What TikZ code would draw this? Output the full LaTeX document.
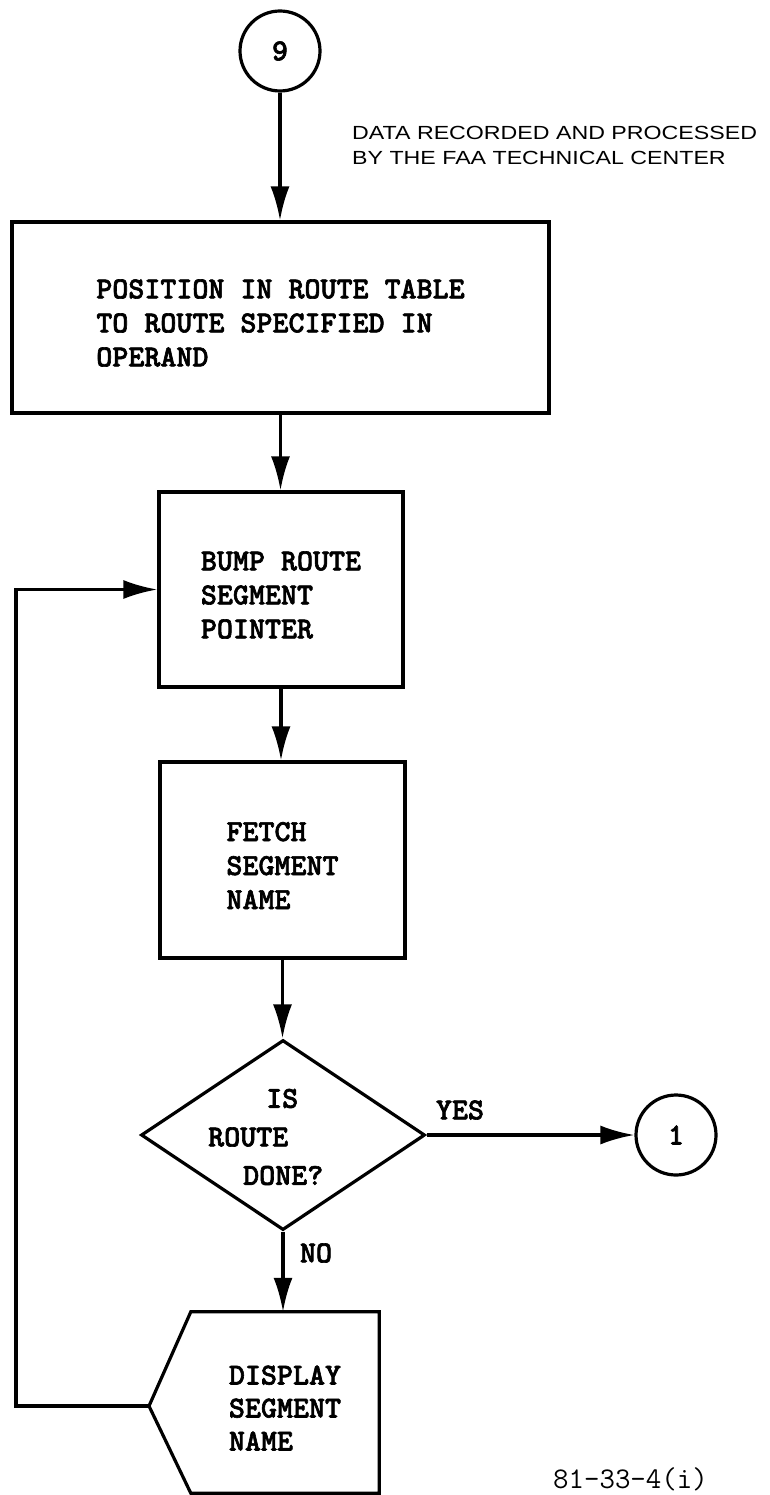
\documentclass[tikz,border=0pt]{standalone}
\usepackage{fontspec}
\setmainfont{Liberation Serif}
\newfontfamily\notefont{Liberation Sans}[FakeStretch=1.22]
\newfontfamily\boxtt{lmmonolt10-bold.otf}[FakeBold=2]
\usetikzlibrary{arrows.meta,shapes.geometric}
\newcommand\myhi{\rule{0pt}{30pt}}
\begin{document}
\begin{tikzpicture}[x=1pt,y=-1pt,
  ln/.style={line width=3.2pt, line join=miter},
  arr/.style={ln, -{Latex[length=34pt,width=19pt]}},
  proc/.style={draw, ln, rectangle, inner sep=0pt, align=left,
    font=\boxtt\fontsize{30.5}{34}\selectfont},
  plain/.style={rectangle, inner sep=0pt, align=left,
    font=\boxtt\fontsize{30.5}{33}\selectfont},
  dia/.style={draw, ln, diamond, inner sep=0pt},
  circ/.style={draw, ln, circle, inner sep=0pt, minimum size=80pt,
    font=\boxtt\fontsize{30.5}{32}\selectfont},
  lbl/.style={inner sep=0pt, font=\boxtt\fontsize{30.5}{32}\selectfont},
  note/.style={inner sep=0pt, align=left, font=\notefont\fontsize{19}{25}\selectfont},
  code/.style={inner sep=0pt, font=\ttfamily\fontsize{30}{32}\selectfont}
]
\useasboundingbox (0,0) rectangle (769,1495);

% nodes
\node[circ] (c9) at (280,51) {9};
\node[note, anchor=west] (note) at (352,145) {DATA RECORDED AND PROCESSED\\BY THE FAA TECHNICAL CENTER};
\node[proc, minimum width=537pt, minimum height=191pt] (b1) at (280.5,317.5)
  {\myhi POSITION IN ROUTE TABLE\\TO ROUTE SPECIFIED IN\\OPERAND};
\node[proc, minimum width=244pt, minimum height=195pt] (b2) at (281,589.5)
  {\myhi BUMP ROUTE\\SEGMENT\\POINTER};
\node[proc, minimum width=245pt, minimum height=196pt] (b3) at (282.5,860)
  {\myhi FETCH\\SEGMENT\\NAME};
\node[dia, minimum width=284pt, minimum height=190pt] (d) at (283,1135) {};
\node[plain, anchor=west, font=\boxtt\fontsize{30.5}{38.5}\selectfont] (dq) at (208,1137)
  {\hspace*{58pt}IS\\ROUTE\\\hspace*{35pt}DONE?};
\node[circ] (c1) at (676,1135) {1};
\node[lbl] (yes) at (460,1110) {YES};
\node[lbl] (no) at (316,1253) {NO};
\node[plain, minimum width=188pt, minimum height=181pt] (disp) at (285,1402.5)
  {\myhi DISPLAY\\SEGMENT\\NAME};
\coordinate (dispL) at (149,1406);
\coordinate (loopx) at (16,0);
\draw[ln] (disp.north west) -- (disp.north east) -- (disp.south east)
  -- (disp.south west) -- (dispL) -- cycle;
\node[code, anchor=west] (code) at (553,1479) {81-33-4(i)};

% connectors
\draw[arr] (c9) -- (c9 |- b1.north);
\draw[arr] (b1.south) -- (b1.south |- b2.north);
\draw[arr] (b2.south) -- (b2.south |- b3.north);
\draw[arr] (b3.south) -- (b3.south |- d.north);
\draw[arr] (d.south) -- (d.south |- disp.north);
\draw[arr] (d.east) -- (c1);
\draw[arr] (dispL) -- (dispL -| loopx) |- (b2.west);
\end{tikzpicture}
\end{document}
